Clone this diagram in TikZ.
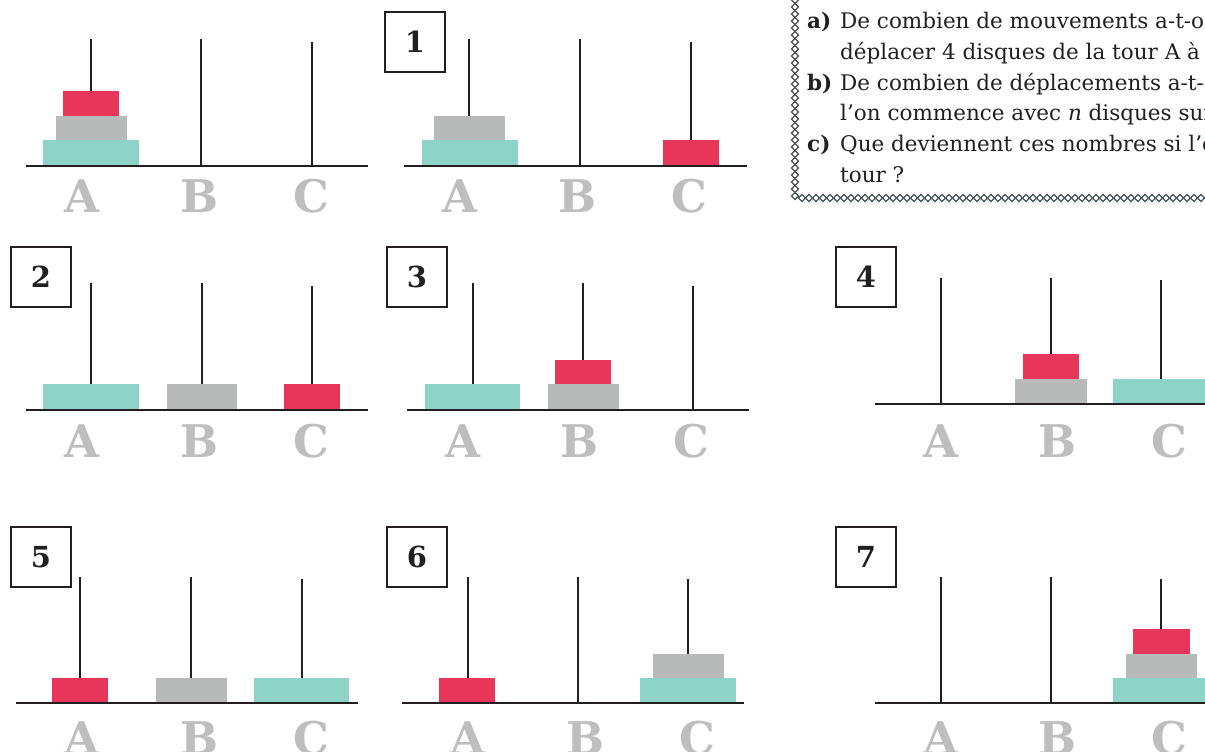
\documentclass[tikz,border=0pt]{standalone}
\usepackage{fontspec}
\setmainfont{DejaVu Serif}
\definecolor{discred}{RGB}{230,55,90}
\definecolor{discgray}{RGB}{184,186,186}
\definecolor{discteal}{RGB}{141,211,199}
\definecolor{lblgray}{RGB}{190,190,190}
\definecolor{inkk}{RGB}{35,31,32}
\definecolor{chaincol}{RGB}{70,82,86}
\tikzset{
  peg/.style={draw=inkk,line width=2.9pt},
  baseln/.style={draw=inkk,line width=2.9pt},
  red/.style={fill=discred},
  gry/.style={fill=discgray},
  tea/.style={fill=discteal},
  lbl/.style={anchor=base,inner sep=0pt,text=lblgray,font=\fontsize{45}{45}\selectfont\bfseries},
  numbox/.style={draw=inkk,line width=1.6pt,minimum width=60pt,minimum height=60pt,inner sep=0pt,font=\fontsize{29}{29}\selectfont\bfseries,text=inkk},
  chain/.style={draw=chaincol,line width=1.1pt},
  qlbl/.style={anchor=base west,inner sep=0pt,font=\fontsize{21.5}{30.6}\selectfont\bfseries,text=inkk},
  qtxt/.style={anchor=base west,inner sep=0pt,font=\fontsize{21.5}{30.6}\selectfont,text=inkk}
}
\begin{document}
\begin{tikzpicture}[x=1pt,y=-1pt]
\useasboundingbox (0,0) rectangle (1205,752);
\clip (0,0) rectangle (1205,752);
\fill[white] (0,0) rectangle (1205,752);

% ---------- text box ----------
\foreach \yy in {0,7,...,196} {
  \draw[chain] (791.5,\yy) -- (795,\yy-3.5) -- (798.5,\yy) -- (795,\yy+3.5) -- cycle;
}
\foreach \xx in {802,809,...,1212} {
  \draw[chain] (\xx-3.5,198) -- (\xx,194.5) -- (\xx+3.5,198) -- (\xx,201.5) -- cycle;
}
\node[qlbl] (qa) at (807,29) {a)};
\node[qtxt] (qa1) at (840,29) {De combien de mouvements a-t-on};
\node[qtxt] (qa2) at (840,59.6) {déplacer 4 disques de la tour A à la};
\node[qlbl] (qb) at (807,90.2) {b)};
\node[qtxt] (qb1) at (840,90.2) {De combien de déplacements a-t-on};
\node[qtxt] (qb2) at (840,120.8) {l’on commence avec \textit{n} disques sur};
\node[qlbl] (qc) at (807,151.4) {c)};
\node[qtxt] (qc1) at (840,151.4) {Que deviennent ces nombres si l’on};
\node[qtxt] (qc2) at (840,182) {tour ?};

% ---------- panel 0 ----------
\draw[peg] (91,166) -- (91,39);
\draw[peg] (201,166) -- (201,39);
\draw[peg] (312,166) -- (312,42);
\fill[tea] (43,140) rectangle (139,166);
\fill[gry] (56,116) rectangle (127,140);
\fill[red] (63,91) rectangle (119,116);
\draw[baseln] (26,166) -- (368,166);
\node[lbl] (p0a) at (82,212) {A};
\node[lbl] (p0b) at (200,212) {B};
\node[lbl] (p0c) at (311,212) {C};

% ---------- panel 1 ----------
\node[numbox] (n1) at (415,42) {1};
\draw[peg] (469,166) -- (469,39);
\draw[peg] (580,166) -- (580,39);
\draw[peg] (691,166) -- (691,42);
\fill[tea] (422,140) rectangle (518,166);
\fill[gry] (434,116) rectangle (505,140);
\fill[red] (663,140) rectangle (719,166);
\draw[baseln] (404,166) -- (747,166);
\node[lbl] (p1a) at (460,212) {A};
\node[lbl] (p1b) at (578,212) {B};
\node[lbl] (p1c) at (689,212) {C};

% ---------- panel 2 ----------
\node[numbox] (n2) at (41,277) {2};
\draw[peg] (91,410) -- (91,283);
\draw[peg] (202,410) -- (202,283);
\draw[peg] (312,410) -- (312,286);
\fill[tea] (43,384) rectangle (139,410);
\fill[gry] (167,384) rectangle (237,410);
\fill[red] (284,384) rectangle (340,410);
\draw[baseln] (26,410) -- (368,410);
\node[lbl] (p2a) at (82,457) {A};
\node[lbl] (p2b) at (200,457) {B};
\node[lbl] (p2c) at (311,457) {C};

% ---------- panel 3 ----------
\node[numbox] (n3) at (417,277) {3};
\draw[peg] (473,410) -- (473,283);
\draw[peg] (583,410) -- (583,283);
\draw[peg] (693,410) -- (693,286);
\fill[tea] (425,384) rectangle (520,410);
\fill[gry] (548,384) rectangle (619,410);
\fill[red] (555,360) rectangle (611,384);
\draw[baseln] (407,410) -- (749,410);
\node[lbl] (p3a) at (463,457) {A};
\node[lbl] (p3b) at (580,457) {B};
\node[lbl] (p3c) at (691,457) {C};

% ---------- panel 4 ----------
\node[numbox] (n4) at (866,277) {4};
\draw[peg] (941,404) -- (941,278);
\draw[peg] (1051,404) -- (1051,278);
\draw[peg] (1161,404) -- (1161,280);
\fill[gry] (1015,379) rectangle (1087,404);
\fill[red] (1023,354) rectangle (1079,379);
\fill[tea] (1113,379) rectangle (1209,404);
\draw[baseln] (875,404) -- (1215,404);
\node[lbl] (p4a) at (941,457) {A};
\node[lbl] (p4b) at (1058,457) {B};
\node[lbl] (p4c) at (1169,457) {C};

% ---------- panel 5 ----------
\node[numbox] (n5) at (41,557) {5};
\draw[peg] (80,703) -- (80,577);
\draw[peg] (191,703) -- (191,577);
\draw[peg] (302,703) -- (302,579);
\fill[red] (52,678) rectangle (108,703);
\fill[gry] (156,678) rectangle (227,703);
\fill[tea] (254,678) rectangle (349,703);
\draw[baseln] (16,703) -- (358,703);
\node[lbl] (p5a) at (82,754) {A};
\node[lbl] (p5b) at (200,754) {B};
\node[lbl] (p5c) at (311,754) {C};

% ---------- panel 6 ----------
\node[numbox] (n6) at (417,557) {6};
\draw[peg] (468,703) -- (468,577);
\draw[peg] (578,703) -- (578,577);
\draw[peg] (688,703) -- (688,579);
\fill[red] (439,678) rectangle (495,703);
\fill[tea] (640,678) rectangle (736,703);
\fill[gry] (653,654) rectangle (724,678);
\draw[baseln] (402,703) -- (744,703);
\node[lbl] (p6a) at (468,754) {A};
\node[lbl] (p6b) at (586,754) {B};
\node[lbl] (p6c) at (697,754) {C};

% ---------- panel 7 ----------
\node[numbox] (n7) at (866,557) {7};
\draw[peg] (941,703) -- (941,577);
\draw[peg] (1051,703) -- (1051,577);
\draw[peg] (1161,703) -- (1161,579);
\fill[tea] (1113,678) rectangle (1209,703);
\fill[gry] (1126,654) rectangle (1197,678);
\fill[red] (1133,629) rectangle (1190,654);
\draw[baseln] (875,703) -- (1215,703);
\node[lbl] (p7a) at (941,754) {A};
\node[lbl] (p7b) at (1058,754) {B};
\node[lbl] (p7c) at (1169,754) {C};
\end{tikzpicture}
\end{document}
